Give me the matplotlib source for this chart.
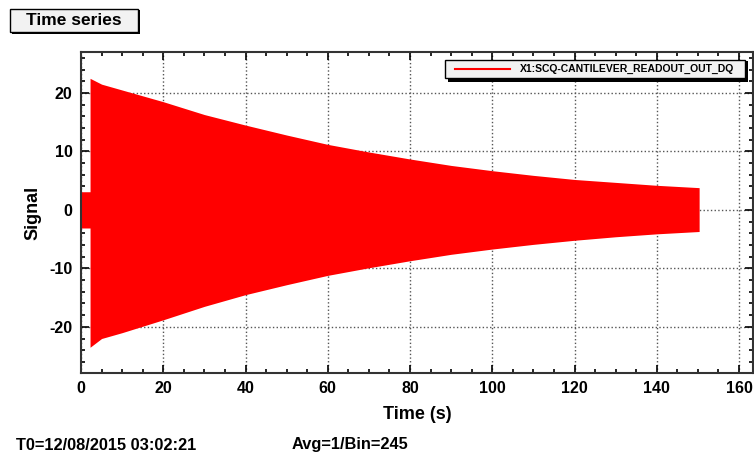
import matplotlib
matplotlib.use('Agg')
import matplotlib.pyplot as plt
from matplotlib.patches import Rectangle
from matplotlib.lines import Line2D
from matplotlib.ticker import MultipleLocator

# envelope of the ringdown (s, upper, lower)
t = [0, 2.2, 2.2, 5, 10, 20, 30, 40, 50, 60, 70, 80, 90, 100, 110, 120, 130, 140, 150.3]
upper = [3.1, 3.1, 22.5, 21.5, 20.5, 18.5, 16.3, 14.5, 12.8, 11.2, 9.9, 8.7, 7.6, 6.7, 5.9, 5.2, 4.7, 4.2, 3.8]
lower = [-3.1, -3.1, -23.5, -22.0, -21.0, -18.8, -16.5, -14.5, -12.8, -11.2, -9.9, -8.7, -7.6, -6.7, -5.9, -5.2, -4.6, -4.1, -3.7]
channel = 'X1:SCQ-CANTILEVER_READOUT_OUT_DQ'
t0_text = 'T0=12/08/2015 03:02:21'
avg_text = 'Avg=1/Bin=245'

plt.rcParams['font.family'] = ['Liberation Sans', 'DejaVu Sans']
plt.rcParams['font.weight'] = 'bold'
plt.rcParams['axes.unicode_minus'] = False

W, H = 754, 453
fig = plt.figure(figsize=(W / 100, H / 100), dpi=100)

def fx(p):
	return p / W

def fy(p):
	return 1 - p / H

left, right, top, bottom = 81, 753, 52, 373
ax = fig.add_axes([fx(left), fy(bottom), fx(right - left), (bottom - top) / H])

ax.fill_between(t, lower, upper, color='#ff0000', lw=0)
ax.set_xlim(0, 163.4)
ax.set_ylim(-27.9, 27.0)
ax.xaxis.set_major_locator(MultipleLocator(20))
ax.xaxis.set_minor_locator(MultipleLocator(5))
ax.yaxis.set_major_locator(MultipleLocator(10))
ax.yaxis.set_minor_locator(MultipleLocator(2))
ax.tick_params(which='both', direction='in', top=True, right=True, labelsize=11.5, width=1.2)
ax.tick_params(which='major', length=6, pad=6)
ax.tick_params(which='minor', length=3)
for lab in ax.get_xticklabels() + ax.get_yticklabels():
	lab.set_fontweight('bold')
for s in ax.spines.values():
	s.set_linewidth(1.5)
	s.set_color('#333333')
ax.grid(True, which='major', ls=':', color='#555555', lw=1)
ax.set_axisbelow(True)
ax.set_xlabel('Time (s)', fontsize=13, fontweight='bold', labelpad=7)
ax.set_ylabel('Signal', fontsize=13, fontweight='bold', labelpad=6)

# title box
fig.add_artist(Rectangle((fx(12), fy(34)), fx(128), 24 / H, transform=fig.transFigure, facecolor='black', edgecolor='black', lw=0))
fig.add_artist(Rectangle((fx(10), fy(32)), fx(128), 23 / H, transform=fig.transFigure, facecolor='#f2f2f2', edgecolor='black', lw=1))
fig.text(fx(74), fy(20.5), 'Time series', fontsize=12.5, fontweight='bold', ha='center', va='center')

# legend box
fig.add_artist(Rectangle((fx(448), fy(82)), fx(300), 21 / H, transform=fig.transFigure, facecolor='black', edgecolor='black', lw=0, zorder=5))
fig.add_artist(Rectangle((fx(445), fy(78)), fx(300), 18 / H, transform=fig.transFigure, facecolor='#f2f2f2', edgecolor='black', lw=1, zorder=6))
fig.add_artist(Line2D([fx(455), fx(510)], [fy(69), fy(69)], transform=fig.transFigure, color='#ff0000', lw=1.5, zorder=7))
fig.text(fx(520), fy(69), channel, fontsize=7.5, fontweight='bold', ha='left', va='center', zorder=7)

# footer
fig.text(fx(16), fy(445), t0_text, fontsize=11.8, fontweight='bold', ha='left', va='center')
fig.text(fx(292), fy(445), avg_text, fontsize=11.8, fontweight='bold', ha='left', va='center')

fig.savefig('out.png', dpi=100, facecolor='white')
